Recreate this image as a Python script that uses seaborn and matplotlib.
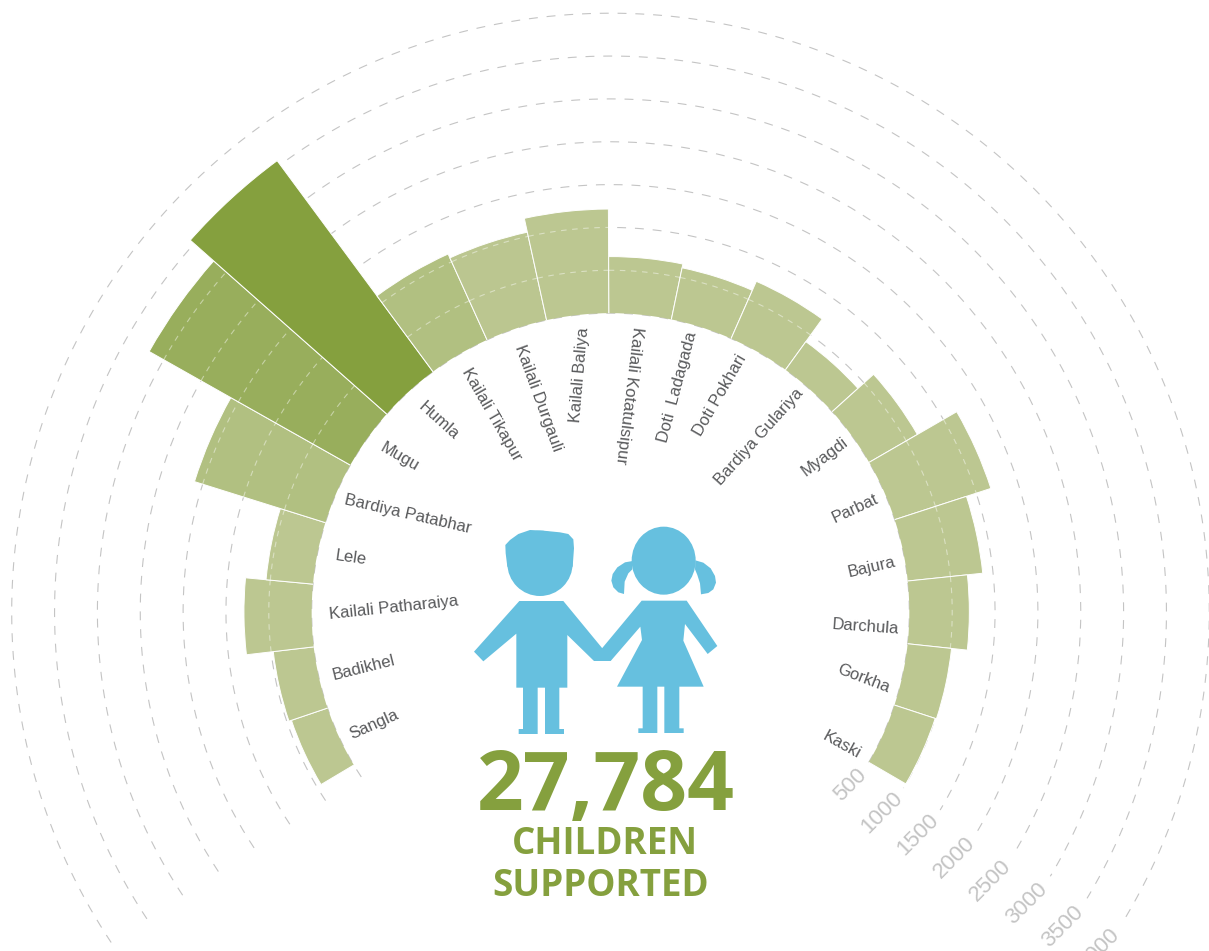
import numpy as np
import pandas as pd
import matplotlib
matplotlib.use('Agg')
import matplotlib.pyplot as plt
from matplotlib.patches import Polygon, Ellipse
import seaborn as sns

# districts, left end of the arc to the right end
districts = ['Sangla', 'Badikhel', 'Kailali Patharaiya', 'Lele', 'Bardiya Patabhar',
             'Mugu', 'Humla', 'Kailali Tikapur', 'Kailali Durgauli', 'Kailali Baliya',
             'Kailali Kotatulsipur', 'Doti  Ladagada', 'Doti Pokhari', 'Bardiya Gulariya', 'Myagdi',
             'Parbat', 'Bajura', 'Darchula', 'Gorkha', 'Kaski']
children = [945, 975, 1290, 1050, 2100,
            3195, 3560, 1600, 1550, 1715,
            1160, 1115, 1230, 905, 1150,
            1680, 1380, 1200, 1015, 1000]
bar_colors = ['#BCC791', '#BCC791', '#BCC791', '#BCC791', '#B1C081',
              '#98AE5C', '#85A03E', '#B1C081', '#BBC690', '#BCC791',
              '#BCC791', '#BCC791', '#BCC791', '#BCC791', '#BCC791',
              '#BCC791', '#BCC791', '#BCC791', '#BCC791', '#BCC791']
grid_levels = [500, 1000, 1500, 2000, 2500, 3000, 3500, 4000]

# label anchors in pixels: x, y, rotation, ha
label_spots = [(350, 735, 24, 'left'), (333, 676, 14, 'left'), (329, 615, 6, 'left'),
               (335, 556, -8, 'left'), (345, 500, -13, 'left'), (381, 447, -30, 'left'),
               (421, 405, -42, 'left'), (465, 369, -60, 'left'), (519, 345, -70, 'left'),
               (584, 327, 85, 'right'), (637, 327, -97, 'left'), (692, 332, 75, 'right'),
               (743, 356, 60, 'right'), (801, 391, 48, 'right'), (846, 440, 37, 'right'),
               (877, 498, 25, 'right'), (895, 562, 13, 'right'), (899, 629, -4, 'right'),
               (889, 689, -21, 'right'), (860, 755, -29, 'right')]

W, H = 1209, 951
CX, CY = 610.5, 612        # centre of the arcs, pixels
PX_PER_UNIT = 0.0857       # radial scale
R_ZERO = 256               # radius of value 0, pixels
R_MAX = 4200
STEP = 12.05               # degrees per bar
BLUE = '#66C0DF'
GREEN = '#85A03E'

sns.set_style('white')
plt.rcParams['font.family'] = ['Liberation Sans', 'DejaVu Sans']

fig = plt.figure(figsize=(W / 100, H / 100), dpi=100)
fig.patch.set_facecolor('white')

half = (R_MAX - (-R_ZERO / PX_PER_UNIT)) * PX_PER_UNIT
ax = fig.add_axes([(CX - half) / W, 1 - (CY + half) / H, 2 * half / W, 2 * half / H], projection='polar')
ax.patch.set_alpha(0)
ax.set_theta_zero_location('N')
ax.set_theta_direction(-1)

angles = np.deg2rad((np.arange(len(districts)) - 9.5) * STEP - 0.3)
df = pd.DataFrame({'district': districts, 'theta': angles, 'children': children})

sns.barplot(data=df, x='theta', y='children', hue='district', palette=bar_colors, native_scale=True,
            dodge=False, width=1, legend=False, edgecolor='white', linewidth=0.7, saturation=1, ax=ax)

ax.set_xlim(-np.pi, np.pi)
ax.set_rorigin(-R_ZERO / PX_PER_UNIT)
ax.set_ylim(500, R_MAX)
ax.set_xlabel('')
ax.set_ylabel('')
ax.set_xticks([])
ax.set_yticks([])
ax.grid(False)
# the polar axes turns its inner spine back on when drawing, so give it no line instead
for sp in ax.spines.values():
    sp.set_linewidth(0)
    sp.set_edgecolor('none')

# rings run under the bars in grey ...
arc = np.deg2rad(np.linspace(-123.5, 121, 500))
for level in grid_levels:
    ax.plot(arc, np.full_like(arc, level), color='#C4C4C4', lw=0.8, dashes=(8, 8), zorder=0.5, clip_on=False)
    ax.text(np.deg2rad(122.3), level, str(level), color='#C4C4C4', fontsize=16, rotation=45,
            rotation_mode='anchor', ha='right', va='center')

# ... and show as pale dashes on every bar they cross, except Humla
half_step = np.deg2rad(STEP) / 2
for name, angle, value in zip(districts, angles, children):
    if name == 'Humla':
        continue
    span = np.linspace(angle - half_step, angle + half_step, 40)
    for level in grid_levels[1:]:
        if level < value - 20:
            ax.plot(span, np.full_like(span, level), color='white', alpha=0.45, lw=0.8, dashes=(5, 5), zorder=2)

# overlay in pixel coordinates for the labels and the two children
top = fig.add_axes([0, 0, 1, 1])
top.set_xlim(0, W)
top.set_ylim(H, 0)
top.axis('off')
top.patch.set_alpha(0)

for name, (x, y, rot, ha) in zip(districts, label_spots):
    top.text(x, y, name, color='#58595B', fontsize=12, rotation=rot, rotation_mode='anchor', ha=ha, va='center')


def zoomed(pts):
    return [(460 + px / 3, 510 + py / 3) for px, py in pts]


boy_hair = [(136, 105), (150, 90), (175, 72), (210, 60), (250, 62), (300, 67), (325, 72), (340, 88),
            (342, 115), (338, 170), (142, 170), (137, 130)]
boy_body = [(178, 273), (310, 273), (427, 415), (452, 453), (402, 453), (322, 375), (322, 533),
            (298, 533), (298, 657), (312, 657), (312, 672), (255, 672), (255, 533), (233, 533),
            (233, 672), (176, 672), (176, 657), (189, 657), (189, 533), (169, 533), (169, 371),
            (70, 454), (42, 425)]
girl_body = [(545, 272), (680, 272), (772, 408), (743, 432), (675, 342), (670, 392), (731, 530),
             (658, 530), (658, 655), (671, 655), (671, 669), (613, 669), (613, 530), (592, 530),
             (592, 669), (535, 669), (535, 655), (548, 655), (548, 530), (471, 530), (546, 390),
             (541, 350), (452, 453), (402, 453), (426, 415)]
left_tail = [(518, 153), (495, 157), (472, 172), (458, 192), (454, 212), (460, 232), (475, 247),
             (492, 252), (494, 215), (505, 190), (517, 178)]
right_tail = [(706, 151), (730, 158), (752, 175), (765, 198), (768, 218), (760, 238), (745, 249),
              (723, 253), (720, 220), (712, 195), (705, 178)]

for shape in [boy_hair, boy_body, girl_body, left_tail, right_tail]:
    top.add_patch(Polygon(zoomed(shape), closed=True, fc=BLUE, ec='none'))
top.add_patch(Ellipse((460 + 240 / 3, 510 + 160 / 3), 196 / 3, 196 / 3, fc=BLUE, ec='none'))
top.add_patch(Ellipse((460 + 611 / 3, 510 + 152 / 3), 192 / 3, 204 / 3, fc=BLUE, ec='none'))

big = ['Open Sans', 'DejaVu Sans']
top.text(606, 810, '27,784', color=GREEN, fontsize=59, fontweight='bold', family=big, ha='center', va='baseline')
top.text(605, 854, 'CHILDREN', color=GREEN, fontsize=26.5, fontweight='bold', family=big, ha='center', va='baseline')
top.text(601, 896, 'SUPPORTED', color=GREEN, fontsize=26.5, fontweight='bold', family=big, ha='center', va='baseline')

fig.savefig('out.png', dpi=100)
